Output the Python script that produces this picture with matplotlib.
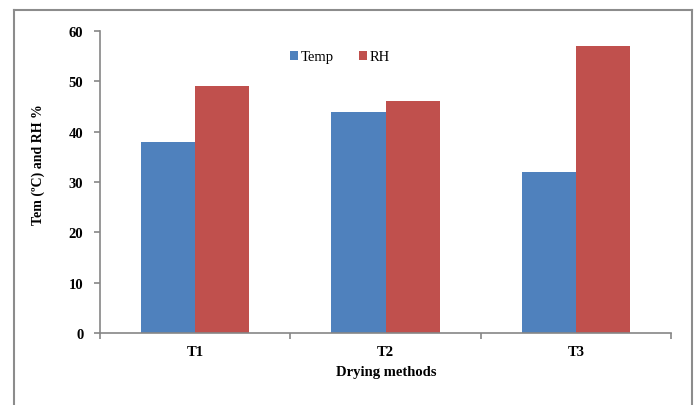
import matplotlib
matplotlib.use("Agg")
import matplotlib.pyplot as plt
import numpy as np
from matplotlib.lines import Line2D

categories = ["T1", "T2", "T3"]
temp = [38, 44, 32]
rh = [49, 46, 57]
yticks = [0, 10, 20, 30, 40, 50, 60]

plt.rcParams['font.family'] = ['Liberation Serif', 'DejaVu Serif']

W, H = 694, 406
fig = plt.figure(figsize=(W / 100, H / 100), dpi=100)
ax = fig.add_axes([100 / W, 1 - 334 / H, (671 - 100) / W, (334 - 32) / H])

x = np.arange(len(categories))
bw = 0.285
ax.bar(x - bw / 2, temp, bw, color="#4F81BD", label="Temp")
ax.bar(x + bw / 2, rh, bw, color="#C0504D", label="RH")

ax.set_xlim(-0.5, 2.5)
ax.set_ylim(0, 60)
ax.set_yticks(yticks)
ax.set_yticklabels([str(v) for v in yticks], fontweight="bold", fontsize=10.5)
ax.set_xticks([-0.5, 0.5, 1.5, 2.5])
ax.set_xticklabels([])
ax.set_xticks(x, minor=True)
ax.set_xticklabels(categories, minor=True, fontweight="bold", fontsize=10.5)
ax.tick_params(axis="x", which="minor", length=0, pad=9)
ax.tick_params(axis="x", which="major", length=4, color="#868686", width=1.2)
ax.tick_params(axis="y", length=4, color="#868686", width=1.2, pad=8)

for s in ["top", "right"]:
    ax.spines[s].set_visible(False)
for s in ["left", "bottom"]:
    ax.spines[s].set_color("#868686")
    ax.spines[s].set_linewidth(1.2)

ax.set_ylabel("Tem (ºC) and RH %", fontweight="bold", fontsize=10)
ax.yaxis.set_label_coords(38 / W, 1 - 165 / H, transform=fig.transFigure)
ax.yaxis.label.set_va("center")
ax.set_xlabel("Drying methods", fontweight="bold", fontsize=10.5)
ax.xaxis.set_label_coords(386 / W, 1 - 373 / H, transform=fig.transFigure)
ax.xaxis.label.set_va("center")

ax.legend(loc="center left", bbox_to_anchor=(290 / W, 1 - 58 / H),
          bbox_transform=fig.transFigure, ncol=2, frameon=False,
          fontsize=10.5, handlelength=0.55, handleheight=0.55, handletextpad=0.2,
          columnspacing=1.7, borderpad=0, borderaxespad=0)

# outer chart frame (left, top, right)
fx0, fx1 = 13.5 / W, 692 / W
fy1 = 1 - 11 / H
for xs, ys in [([fx0, fx0], [0, fy1]), ([fx0, fx1], [fy1, fy1]), ([fx1, fx1], [fy1, 0])]:
    fig.add_artist(Line2D(xs, ys, transform=fig.transFigure, color="#8C8C8C", lw=1.5))

fig.savefig("out.png", dpi=100)
